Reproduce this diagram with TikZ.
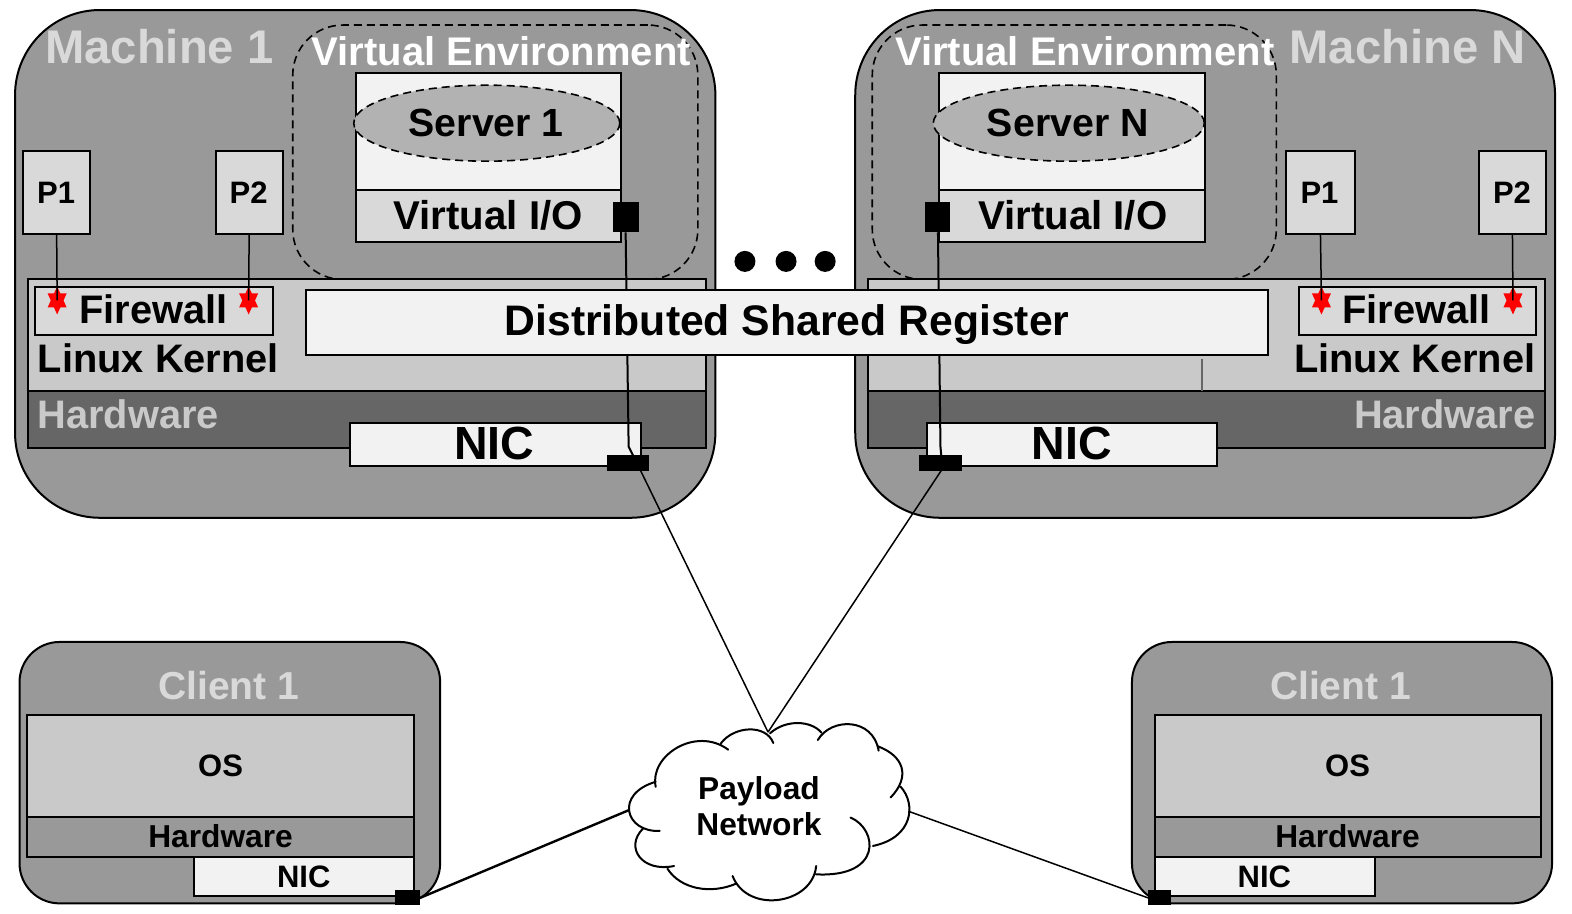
\documentclass[tikz,border=0pt]{standalone}
\usepackage{fontspec}
\usetikzlibrary{shapes.geometric}
\setmainfont{Liberation Sans}
\definecolor{mach}{HTML}{999999}
\definecolor{lite}{HTML}{F2F2F2}
\definecolor{pale}{HTML}{D9D9D9}
\definecolor{kern}{HTML}{C9C9C9}
\definecolor{hard}{HTML}{666666}
\definecolor{oval}{HTML}{B2B2B2}
\tikzset{
  bx/.style={draw=black,line width=2pt,inner sep=0pt,outer sep=0pt},
  venv/.style={draw=black,line width=1.6pt,dash pattern=on 8pt off 5pt,rounded corners=50pt,inner sep=0pt,outer sep=0pt},
  oval shape/.style={ellipse,draw=black,line width=1.6pt,dash pattern=on 8pt off 5pt,fill=oval,inner sep=0pt,outer sep=0pt},
  port/.style={fill=black,draw=none,inner sep=0pt,outer sep=0pt},
  wire/.style={draw=black,line width=2pt},
  thinwire/.style={draw=black,line width=1.5pt},
  lbl/.style={anchor=base,inner sep=0pt,font=\bfseries,text=black},
}
\newcommand{\bxn}[6]{%
  \pgfmathsetmacro{\cxx}{(#2+#4)/2}\pgfmathsetmacro{\cyy}{(#3+#5)/2}%
  \pgfmathsetmacro{\wdd}{(#4-#2)*1.0026}\pgfmathsetmacro{\htt}{(#5-#3)*1.0015}%
  \node[minimum width=\wdd pt,minimum height=\htt pt,#6] (#1) at (\cxx,\cyy) {};}
\newcommand{\tx}[6]{\node[lbl,text=#5,font=\fontsize{#4}{#4}\selectfont\bfseries] (#1) at (#2,#3) {#6};}
\newcommand{\redstar}[3]{\coordinate (#1) at (#2,#3);
  \fill[red] (#2,#3-14)--(#2+9.5,#3+7)--(#2-9.5,#3+7)--cycle;
  \fill[red] (#2,#3+14)--(#2+9.5,#3-7)--(#2-9.5,#3-7)--cycle;}
\begin{document}
\begin{tikzpicture}[x=1.0026pt,y=-1.0015pt]
\useasboundingbox (0,0) rectangle (1567.9,912.6);
\fill[white] (0,0) rectangle (1567.9,912.6);
% Machine 1
\bxn{m1}{15}{10}{713.5}{517}{bx,fill=mach,rounded corners=85pt}
\bxn{ve1}{292}{25}{696}{279}{venv}
\bxn{srv1}{355}{73}{619.5}{190}{bx,fill=lite}
\bxn{vio1}{355}{190}{619.5}{242}{bx,fill=pale}
\node[oval shape,minimum width=266pt,minimum height=76pt] (el1) at (485.5,123) {};
\bxn{p11}{23}{151}{90}{234}{bx,fill=pale}
\bxn{p21}{215}{151}{282}{234}{bx,fill=pale}
\bxn{ker1}{28}{279}{704}{390}{bx,fill=kern}
\bxn{hw1}{28}{390}{704}{447}{bx,fill=hard}
\bxn{fw1}{35}{287}{272}{334}{bx,fill=pale}
\bxn{nic1}{349}{422}{639}{465}{bx,fill=lite}
\bxn{vp1}{611}{202}{637}{232}{port}
\bxn{np1}{605}{454}{647}{470}{port}
\coordinate (bend1) at (627,446);
\coordinate (out1) at (638,468);
\redstar{s11}{57}{300}
\redstar{s21}{248}{300}
\draw[thinwire] (p11.south) -- (s11);
\draw[thinwire] (p21.south) -- (s21);
\draw[wire] (vp1.south) -- (bend1) -- (out1);
% Machine N
\bxn{mN}{853}{10}{1551}{517}{bx,fill=mach,rounded corners=85pt}
\bxn{veN}{870}{25}{1273}{279}{venv}
\bxn{srvN}{937}{73}{1201.5}{190}{bx,fill=lite}
\bxn{vioN}{937}{190}{1201.5}{242}{bx,fill=pale}
\node[oval shape,minimum width=271pt,minimum height=76pt] (elN) at (1066,123) {};
\bxn{p1N}{1283}{151}{1351}{234}{bx,fill=pale}
\bxn{p2N}{1475}{151}{1542}{234}{bx,fill=pale}
\bxn{kerN}{866}{279}{1541}{390}{bx,fill=kern}
\bxn{hwN}{866}{390}{1541}{447}{bx,fill=hard}
\bxn{fwN}{1296}{287}{1532}{334}{bx,fill=pale}
\bxn{nicN}{925}{422}{1214}{465}{bx,fill=lite}
\bxn{vpN}{923}{202}{948}{232}{port}
\bxn{npN}{917}{454}{959}{470}{port}
\coordinate (bendN) at (938,446);
\coordinate (outN) at (940,468);
\redstar{s1N}{1318}{300}
\redstar{s2N}{1509}{300}
\draw[thinwire] (p1N.south) -- (s1N);
\draw[thinwire] (p2N.south) -- (s2N);
\draw[wire] (vpN.south) -- (bendN) -- (outN);
\coordinate (tickA) at (1199,358);
\coordinate (tickB) at (1199,390);
\draw[line width=2.5pt,draw=hard] (tickA) -- (tickB);
% Shared register
\bxn{dsr}{305}{290}{1265}{354}{bx,fill=lite}
% dots
\foreach \xx/\nm in {743/a,784/b,823/c}{\node[circle,fill=black,minimum size=21pt,inner sep=0pt] (dot\nm) at (\xx,261) {};}
% Clients
\bxn{c1}{19.5}{641}{439}{902}{bx,fill=mach,rounded corners=40pt}
\bxn{os1}{27}{714}{413}{816}{bx,fill=kern}
\bxn{chw1}{27}{816}{413}{856}{bx,fill=mach}
\bxn{cnic1}{193}{856}{413}{895}{bx,fill=lite}
\bxn{cp1}{394}{889}{419}{904}{port}
\bxn{c2}{1129}{641}{1548}{902}{bx,fill=mach,rounded corners=40pt}
\bxn{os2}{1152}{714}{1537}{816}{bx,fill=kern}
\bxn{chw2}{1152}{816}{1537}{856}{bx,fill=mach}
\bxn{cnic2}{1152}{856}{1371}{895}{bx,fill=lite}
\bxn{cp2}{1145}{889}{1168}{904}{port}
% Cloud
\begin{scope}[shift={(599,699.5)},x=0.3342pt,y=-0.3342pt,line width=2pt,line cap=round]
\draw[black]
 (165,258) .. controls (145,165) and (285,75) .. (382,147)
 (360,128) .. controls (400,75) and (495,70) .. (517,127)
 (507,98) .. controls (555,55) and (630,60) .. (660,95)
 (650,118) .. controls (690,50) and (815,50) .. (832,150)
 (830,137) .. controls (905,165) and (930,225) .. (868,290)
 (898,258) .. controls (945,310) and (935,410) .. (815,435)
 (748,350) .. controls (830,385) and (845,530) .. (645,520)
 (645,495) .. controls (635,610) and (440,640) .. (395,525)
 (405,548) .. controls (330,580) and (240,565) .. (200,503)
 (220,495) .. controls (125,515) and (70,440) .. (127,383)
 (177,390) .. controls (75,395) and (40,280) .. (165,243);
\end{scope}
\coordinate (cloudT) at (766,731);
\coordinate (cloudL) at (627,809);
\coordinate (cloudR) at (906,810);
\draw[thinwire] (out1) -- (cloudT);
\draw[thinwire] (outN) -- (cloudT);
\draw[wire,line width=2.4pt] (cp1.east) -- (cloudL);
\draw[thinwire] (cp2.west) -- (cloudR);
% Labels
\tx{t1}{159}{63}{47.2}{pale}{Machine 1}
\tx{t2}{1404}{63}{47.2}{pale}{Machine N}
\tx{t3}{500}{65}{40}{white}{Virtual Environment}
\tx{t4}{1082}{65}{40}{white}{Virtual Environment}
\tx{t5}{485}{136}{39.3}{black}{Server 1}
\tx{t6}{1065}{136}{39.3}{black}{Server N}
\tx{t7}{487}{229}{40.2}{black}{Virtual I/O}
\tx{t8}{1070}{229}{40.2}{black}{Virtual I/O}
\tx{t9}{56}{203}{31}{black}{P1}
\tx{t10}{248}{203}{31}{black}{P2}
\tx{t11}{1316}{203}{31}{black}{P1}
\tx{t12}{1508}{203}{31}{black}{P2}
\tx{t13}{153}{323}{39.8}{black}{Firewall}
\tx{t14}{1413}{323}{39.8}{black}{Firewall}
\tx{t15}{158}{372}{39.8}{black}{Linux Kernel}
\tx{t16}{1411}{372}{39.8}{black}{Linux Kernel}
\tx{t17}{128}{428}{39.8}{kern}{Hardware}
\tx{t18}{1441}{428}{39.8}{kern}{Hardware}
\tx{t19}{493}{459}{46.5}{black}{NIC}
\tx{t20}{1069}{459}{46.5}{black}{NIC}
\tx{t21}{785}{335}{42.7}{black}{Distributed Shared Register}
\tx{t22}{228}{698}{39}{pale}{Client 1}
\tx{t23}{1337}{698}{39}{pale}{Client 1}
\tx{t24}{220}{775}{31}{black}{OS}
\tx{t25}{1344}{775}{31}{black}{OS}
\tx{t26}{220}{846}{31.7}{black}{Hardware}
\tx{t27}{1344}{846}{31.7}{black}{Hardware}
\tx{t28}{303}{886}{31}{black}{NIC}
\tx{t29}{1261}{886}{31}{black}{NIC}
\tx{t30}{757}{798}{31.7}{black}{Payload}
\tx{t31}{757}{834}{31.7}{black}{Network}
\end{tikzpicture}
\end{document}
